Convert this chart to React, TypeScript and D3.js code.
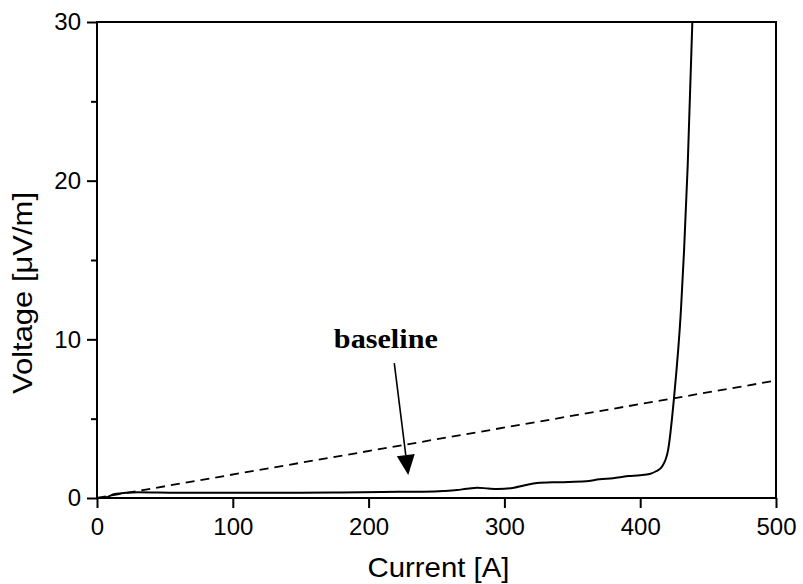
import { useRef, useEffect } from 'react'
import * as d3 from 'd3'

// measured curve (Current [A] vs Voltage [µV/m])
const current = [0, 7, 13, 30, 60, 100, 150, 180, 210, 240, 255, 265, 272, 280, 288, 295, 300, 307, 315, 324, 340, 360, 370, 380, 391, 400, 407, 412, 416, 420.5, 425, 430, 432.3, 435, 438.4]
const voltage = [0, 0.05, 0.25, 0.36, 0.33, 0.33, 0.33, 0.35, 0.38, 0.4, 0.44, 0.5, 0.58, 0.65, 0.6, 0.57, 0.58, 0.65, 0.8, 0.95, 1.0, 1.05, 1.18, 1.25, 1.38, 1.43, 1.51, 1.7, 1.97, 3.0, 6.4, 11.85, 15.6, 21, 30]

// dashed baseline
const baseCurrent = [0, 500]
const baseVoltage = [0, 7.4]

const xTicks = [0, 100, 200, 300, 400, 500]
const yTicks = [0, 10, 20, 30]
const yMinorTicks = [5, 15, 25]

// annotation (data coords)
const labelText = 'baseline'
const labelPos = [212.7, 9.45]
const arrowFrom = [218.9, 8.5]
const arrowTo = [229.2, 1.45]

const App = () => {
  const svgRef = useRef<SVGSVGElement>(null)

  useEffect(() => {
    const svg = d3.select(svgRef.current)
    svg.selectAll('*').remove()

    const margin = { top: 22, right: 27, bottom: 86, left: 97 }
    const width = 803
    const height = 584
    const innerWidth = width - margin.left - margin.right
    const innerHeight = height - margin.top - margin.bottom

    const g = svg.append('g').attr('transform', `translate(${margin.left} ${margin.top})`)

    const x = d3.scaleLinear().domain([0, 500]).range([0, innerWidth])
    const y = d3.scaleLinear().domain([0, 30]).range([innerHeight, 0])

    // dashed baseline
    const baseData = baseCurrent.map((c, i) => [c, baseVoltage[i]] as [number, number])
    g.append('path')
      .attr('d', d3.line<[number, number]>().x((d) => x(d[0])).y((d) => y(d[1]))(baseData))
      .attr('fill', 'none')
      .attr('stroke', 'black')
      .attr('stroke-width', 1.8)
      .attr('stroke-dasharray', '9,6')

    // curve
    const data = current.map((c, i) => [c, voltage[i]] as [number, number])
    g.append('path')
      .attr('d', d3.line<[number, number]>().x((d) => x(d[0])).y((d) => y(d[1])).curve(d3.curveMonotoneX)(data))
      .attr('fill', 'none')
      .attr('stroke', 'black')
      .attr('stroke-width', 2)

    // frame
    g.append('rect')
      .attr('width', innerWidth)
      .attr('height', innerHeight)
      .attr('fill', 'none')
      .attr('stroke', 'black')
      .attr('stroke-width', 2)

    const font = '"Liberation Sans", Arial, sans-serif'

    // x axis
    const xAxis = g.append('g').attr('transform', `translate(0, ${innerHeight})`)
      .call(d3.axisBottom(x).tickValues(xTicks).tickSize(10).tickPadding(10).tickFormat(d3.format('d')))
    xAxis.select('.domain').remove()
    xAxis.selectAll('line').attr('stroke-width', 2)
    xAxis.selectAll('text').attr('font-family', font).attr('font-size', 24).attr('fill', 'black')

    // y axis
    const yAxis = g.append('g')
      .call(d3.axisLeft(y).tickValues(yTicks).tickSize(10).tickPadding(6).tickFormat(d3.format('d')))
    yAxis.select('.domain').remove()
    yAxis.selectAll('line').attr('stroke-width', 2)
    yAxis.selectAll('text').attr('font-family', font).attr('font-size', 24).attr('fill', 'black')

    const yMinor = g.append('g').call(d3.axisLeft(y).tickValues(yMinorTicks).tickSize(6).tickFormat(() => ''))
    yMinor.select('.domain').remove()
    yMinor.selectAll('line').attr('stroke-width', 2)

    // axis titles
    svg.append('text')
      .text('Current [A]')
      .attr('x', margin.left + innerWidth / 2 + 2)
      .attr('y', 577)
      .attr('text-anchor', 'middle')
      .attr('font-family', font)
      .attr('font-size', 28)
      .attr('textLength', 142)
      .attr('lengthAdjust', 'spacingAndGlyphs')

    svg.append('text')
      .text('Voltage [μV/m]')
      .attr('transform', `translate(32, 293) rotate(-90)`)
      .attr('text-anchor', 'middle')
      .attr('font-family', font)
      .attr('font-size', 28)
      .attr('textLength', 202)
      .attr('lengthAdjust', 'spacingAndGlyphs')

    // annotation
    g.append('text')
      .text(labelText)
      .attr('x', x(labelPos[0]))
      .attr('y', y(labelPos[1]))
      .attr('text-anchor', 'middle')
      .attr('font-family', '"Liberation Serif", "Times New Roman", serif')
      .attr('font-weight', 'bold')
      .attr('font-size', 27)
      .attr('textLength', 104)
      .attr('lengthAdjust', 'spacingAndGlyphs')

    const x1 = x(arrowFrom[0]), y1 = y(arrowFrom[1])
    const x2 = x(arrowTo[0]), y2 = y(arrowTo[1])
    const len = Math.hypot(x2 - x1, y2 - y1)
    const ux = (x2 - x1) / len, uy = (y2 - y1) / len
    const headLen = 20, headHalf = 9
    const bx = x2 - ux * headLen, by = y2 - uy * headLen
    g.append('line')
      .attr('x1', x1).attr('y1', y1)
      .attr('x2', bx).attr('y2', by)
      .attr('stroke', 'black')
      .attr('stroke-width', 1.6)
    g.append('path')
      .attr('d', `M${x2},${y2}L${bx - uy * headHalf},${by + ux * headHalf}L${bx + uy * headHalf},${by - ux * headHalf}Z`)
      .attr('fill', 'black')
  }, [])

  return (
    <div>
      <svg ref={svgRef} width="803" height="584" style={{ position: 'absolute', left: 0, top: 0, background: 'white' }}></svg>
    </div>
  )
}

export default App
